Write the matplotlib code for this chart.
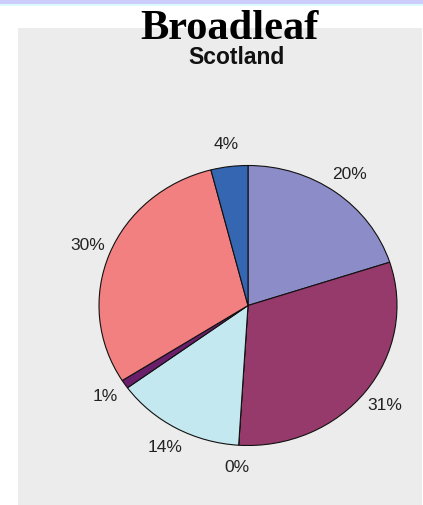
import matplotlib
matplotlib.use("Agg")
import matplotlib.pyplot as plt
from matplotlib.patches import Rectangle

# Broadleaf woodland share by category, Scotland
labels = ["20%", "31%", "0%", "14%", "1%", "30%", "4%"]
shares = [20, 31, 0, 14, 1, 30, 4]
colors = ["#8c8cc8", "#963a6b", "#5a2a6a", "#c4e8f0", "#6a1f6a", "#f28080", "#3466b2"]

W, H = 423, 505
fig = plt.figure(figsize=(W / 100, H / 100), dpi=100)
fig.patch.set_facecolor("white")

# header strip and grey chart panel, kept behind the axes
for (x0, y0, w, h, fc) in [
    (0, H - 4, W, 4, "#cccdfb"),
    (0, H - 6, W, 2, "#d9fbff"),
    (18, 0, 404, H - 28, "#ececec"),
]:
    fig.patches.append(Rectangle((x0 / W, y0 / H), w / W, h / H, transform=fig.transFigure,
                                 facecolor=fc, edgecolor="none", zorder=-10))

ax = fig.add_axes([0, 0, 1, 1])
ax.set_facecolor("none")
ax.set_zorder(1)
wedges, texts = ax.pie(
    shares, labels=labels, colors=colors, startangle=90, counterclock=False,
    labeldistance=1.16,
    wedgeprops=dict(edgecolor="#111111", linewidth=0.8),
    textprops=dict(ha="center", va="center", fontsize=12.5, color="#222222",
                   family="Liberation Sans"),
)
# slightly wider than tall, as in the original chart
cx, cy, rx, ry = 248, H - 305.5, 149, 140
ax.set_aspect("auto")
ax.set_xlim(-cx / rx, (W - cx) / rx)
ax.set_ylim(-cy / ry, (H - cy) / ry)
ax.axis("off")

fig.text(229 / W, 1 - 29 / H, "Broadleaf", ha="center", va="center", zorder=5,
         family="Liberation Serif", fontweight="bold", fontsize=30.5, color="black")
fig.text(236 / W, 1 - 58 / H, "Scotland", ha="center", va="center", zorder=5,
         family="Liberation Sans", fontweight="bold", fontsize=16.5, color="#111111")

fig.savefig("out.png", dpi=100)
